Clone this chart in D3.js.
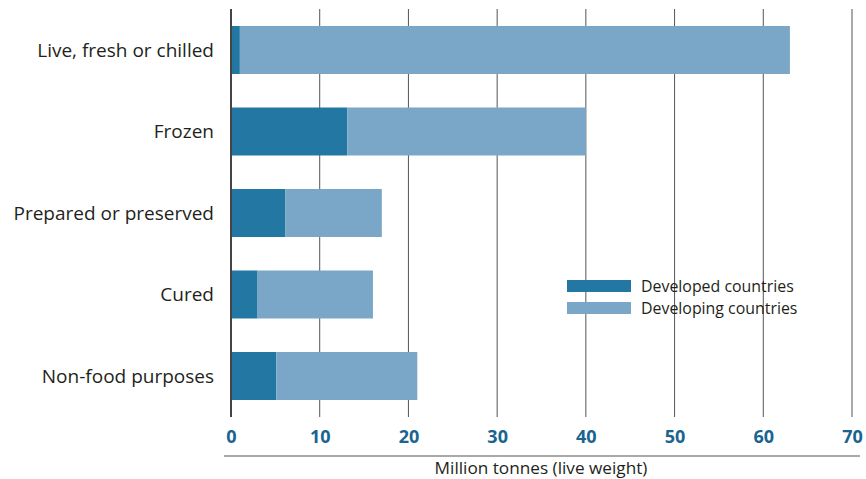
<!DOCTYPE html>
<html><head><meta charset="utf-8">
<script src="https://cdn.jsdelivr.net/npm/d3@7"></script>
<style>body{margin:0;background:#fff}svg{display:block}</style>
</head><body>
<svg id="c" width="866" height="479"></svg>
<script>
const categories = ["Live, fresh or chilled","Frozen","Prepared or preserved","Cured","Non-food purposes"];
const developed = [1.0, 13.1, 6.1, 3.0, 5.1];
const developing = [62.0, 26.9, 10.9, 13.0, 15.9];
const ticks = [0,10,20,30,40,50,60,70];
const seriesNames = ["Developed countries","Developing countries"];
const colors = ["#2278a3","#7aa7c7"];
const font = "'Open Sans', 'Noto Sans', sans-serif";

const svg = d3.select("#c");
const x = d3.scaleLinear().domain([0,70]).range([231,852]);
const y = d3.scaleBand().domain(categories).range([9.25,416.75]).paddingInner(0.411).paddingOuter(0.2055);

svg.append("g").selectAll("line").data(ticks.slice(1)).join("line")
  .attr("x1",d=>x(d)).attr("x2",d=>x(d)).attr("y1",9).attr("y2",417)
  .attr("stroke","#555").attr("stroke-width",1);

const rows = categories.map((c,i)=>({c, a:developed[i], b:developing[i]}));
const stack = d3.stack().keys(["a","b"])(rows);
svg.append("g").selectAll("g").data(stack).join("g").attr("fill",(d,i)=>colors[i])
  .selectAll("rect").data(d=>d).join("rect")
  .attr("x",d=>x(d[0])).attr("width",d=>x(d[1])-x(d[0]))
  .attr("y",d=>y(d.data.c)).attr("height",y.bandwidth());

svg.append("line").attr("x1",x(0)).attr("x2",x(0)).attr("y1",9).attr("y2",417)
  .attr("stroke","#444").attr("stroke-width",2);

svg.append("g").selectAll("text").data(categories).join("text")
  .attr("x",214).attr("y",d=>y(d)+y.bandwidth()/2).attr("dy","0.35em")
  .attr("text-anchor","end").attr("font-family",font).attr("font-size",19).attr("fill","#231f20")
  .text(d=>d);

const ax = d3.axisBottom(x).tickValues(ticks).tickSize(0).tickPadding(0);
const g = svg.append("g").attr("transform","translate(0,433)").call(ax);
g.select(".domain").remove();
g.selectAll("text").attr("font-family",font).attr("font-size",18).attr("font-weight","bold")
  .attr("fill","#1a6490").attr("dy","0.55em");

svg.append("line").attr("x1",224).attr("x2",860).attr("y1",456).attr("y2",456)
  .attr("stroke","#555").attr("stroke-width",1.2);
svg.append("text").attr("x",541).attr("y",474).attr("text-anchor","middle")
  .attr("font-family",font).attr("font-size",17.2).attr("fill","#231f20").text("Million tonnes (live weight)");

const lg = svg.append("g");
seriesNames.forEach((s,i)=>{
  lg.append("rect").attr("x",567).attr("y",280+i*22).attr("width",64).attr("height",12).attr("fill",colors[i]);
  lg.append("text").attr("x",641).attr("y",286+i*22).attr("dy","0.35em")
    .attr("font-family",font).attr("font-size",15.9).attr("fill","#231f20").text(s);
});
</script>
</body></html>
